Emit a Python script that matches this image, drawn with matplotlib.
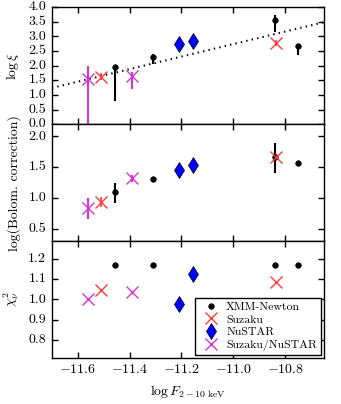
import matplotlib
matplotlib.use("Agg")
import matplotlib.pyplot as plt
import numpy as np

plt.style.use("classic")
plt.rcParams['font.family'] = 'serif'
plt.rcParams['font.serif'] = ['cmr10', 'DejaVu Serif']
plt.rcParams['mathtext.fontset'] = 'cm'
plt.rcParams['axes.formatter.use_mathtext'] = True
plt.rcParams['font.size'] = 10

# ---- data ----
# XMM-Newton
xmm_x = [-11.455, -11.31, -10.84, -10.75]
xmm_xi = [1.97, 2.30, 3.55, 2.67]
xmm_xi_lo = [1.19, 0.25, 0.40, 0.32]
xmm_xi_hi = [0.05, 0.10, 0.20, 0.08]
xmm_bol = [1.09, 1.31, 1.66, 1.57]
xmm_bol_lo = [0.17, 0.0, 0.26, 0.0]
xmm_bol_hi = [0.16, 0.0, 0.24, 0.0]
xmm_chi = [1.17, 1.17, 1.17, 1.17]

# Suzaku
suz_x = [-11.51, -10.835]
suz_xi = [1.63, 2.78]
suz_xi_err = [0.12, 0.10]
suz_bol = [0.93, 1.67]
suz_bol_err = [0.08, 0.05]
suz_chi = [1.048, 1.086]

# NuSTAR
nu_x = [-11.21, -11.155]
nu_xi = [2.76, 2.84]
nu_xi_err = [0.08, 0.08]
nu_bol = [1.46, 1.54]
nu_bol_err = [0.05, 0.05]
nu_chi = [0.976, 1.127]

# Suzaku/NuSTAR
sn_x = [-11.56, -11.39]
sn_xi = [1.53, 1.65]
sn_xi_lo = [1.53, 0.45]
sn_xi_hi = [0.47, 0.15]
sn_bol = [0.83, 1.32]
sn_bol_err = [0.17, 0.06]
sn_chi = [1.003, 1.037]

# dotted trend line (top panel)
fit_x = [-11.70, -10.65]
fit_y = [1.24, 3.49]

xticks = [-11.6, -11.4, -11.2, -11.0, -10.8]

RED = '#ff3b3b'
MAG = '#d633d6'

fig, axes = plt.subplots(3, 1, figsize=(3.41, 4.04), dpi=100, sharex=True)
fig.subplots_adjust(left=0.152, right=0.950, top=0.982, bottom=0.114, hspace=0)
ax1, ax2, ax3 = axes

# top panel
ax1.plot(fit_x, fit_y, ':', color='k', lw=1.5)
ax1.errorbar(xmm_x, xmm_xi, yerr=[xmm_xi_lo, xmm_xi_hi], fmt='o', color='k',
             ms=4, mec='k', elinewidth=1.5, capsize=0)
ax1.errorbar(suz_x, suz_xi, yerr=suz_xi_err, fmt='x', color=RED, ms=8, mew=1,
             elinewidth=1.2, capsize=0)
ax1.errorbar(nu_x, nu_xi, yerr=nu_xi_err, fmt='d', color='b', mec='k', ms=8,
             elinewidth=1.2, capsize=0)
ax1.errorbar(sn_x, sn_xi, yerr=[sn_xi_lo, sn_xi_hi], fmt='x', color=MAG, ms=8, mew=1,
             elinewidth=1.5, capsize=0)
ax1.set_ylim(0, 4.0)
ax1.set_yticks(np.arange(0, 4.01, 0.5))
ax1.set_ylabel(r'$\log\xi$')

# middle panel
ax2.errorbar(xmm_x, xmm_bol, yerr=[xmm_bol_lo, xmm_bol_hi], fmt='o', color='k',
             ms=4, mec='k', elinewidth=1.5, capsize=0)
ax2.errorbar(suz_x, suz_bol, yerr=suz_bol_err, fmt='x', color=RED, ms=8, mew=1,
             elinewidth=1.2, capsize=0)
ax2.errorbar(nu_x, nu_bol, yerr=nu_bol_err, fmt='d', color='b', mec='k', ms=8,
             elinewidth=1.2, capsize=0)
ax2.errorbar(sn_x, sn_bol, yerr=sn_bol_err, fmt='x', color=MAG, ms=8, mew=1,
             elinewidth=1.5, capsize=0)
ax2.set_ylim(0.3, 2.2)
ax2.set_yticks([0.5, 1.0, 1.5, 2.0])
ax2.set_ylabel('log(Bolom. correction)')

# bottom panel
ax3.plot(xmm_x, xmm_chi, 'o', color='k', ms=4, mec='k', label='XMM-Newton')
ax3.plot(suz_x, suz_chi, 'x', color=RED, ms=8, mew=1, label='Suzaku')
ax3.plot(nu_x, nu_chi, 'd', color='b', mec='k', ms=8, label='NuSTAR')
ax3.plot(sn_x, sn_chi, 'x', color=MAG, ms=8, mew=1, label='Suzaku/NuSTAR')
ax3.set_ylim(0.71, 1.29)
ax3.set_yticks([0.8, 0.9, 1.0, 1.1, 1.2])
ax3.set_ylabel(r'$\chi_\nu^2$')
ax3.set_xlabel(r'$\log F_{2-10\ \rm keV}$')
leg = ax3.legend(loc='lower right', numpoints=1, fontsize=8.5, fancybox=False,
                 borderaxespad=0.25, handletextpad=0.3, labelspacing=0.2,
                 borderpad=0.35)
leg.get_frame().set_edgecolor('k')

ax3.set_xlim(-11.70, -10.65)
ax3.set_xticks(xticks)
ax3.set_xticklabels([f'${v:.1f}$' for v in xticks])

for ax in axes:
    ax.tick_params(direction='in', length=4, width=1, top=True, right=True)
    ax.yaxis.set_major_formatter(matplotlib.ticker.FormatStrFormatter('%.1f'))
    ax.yaxis.set_label_coords(-0.115, 0.5)

fig.savefig('out.png', dpi=100)
